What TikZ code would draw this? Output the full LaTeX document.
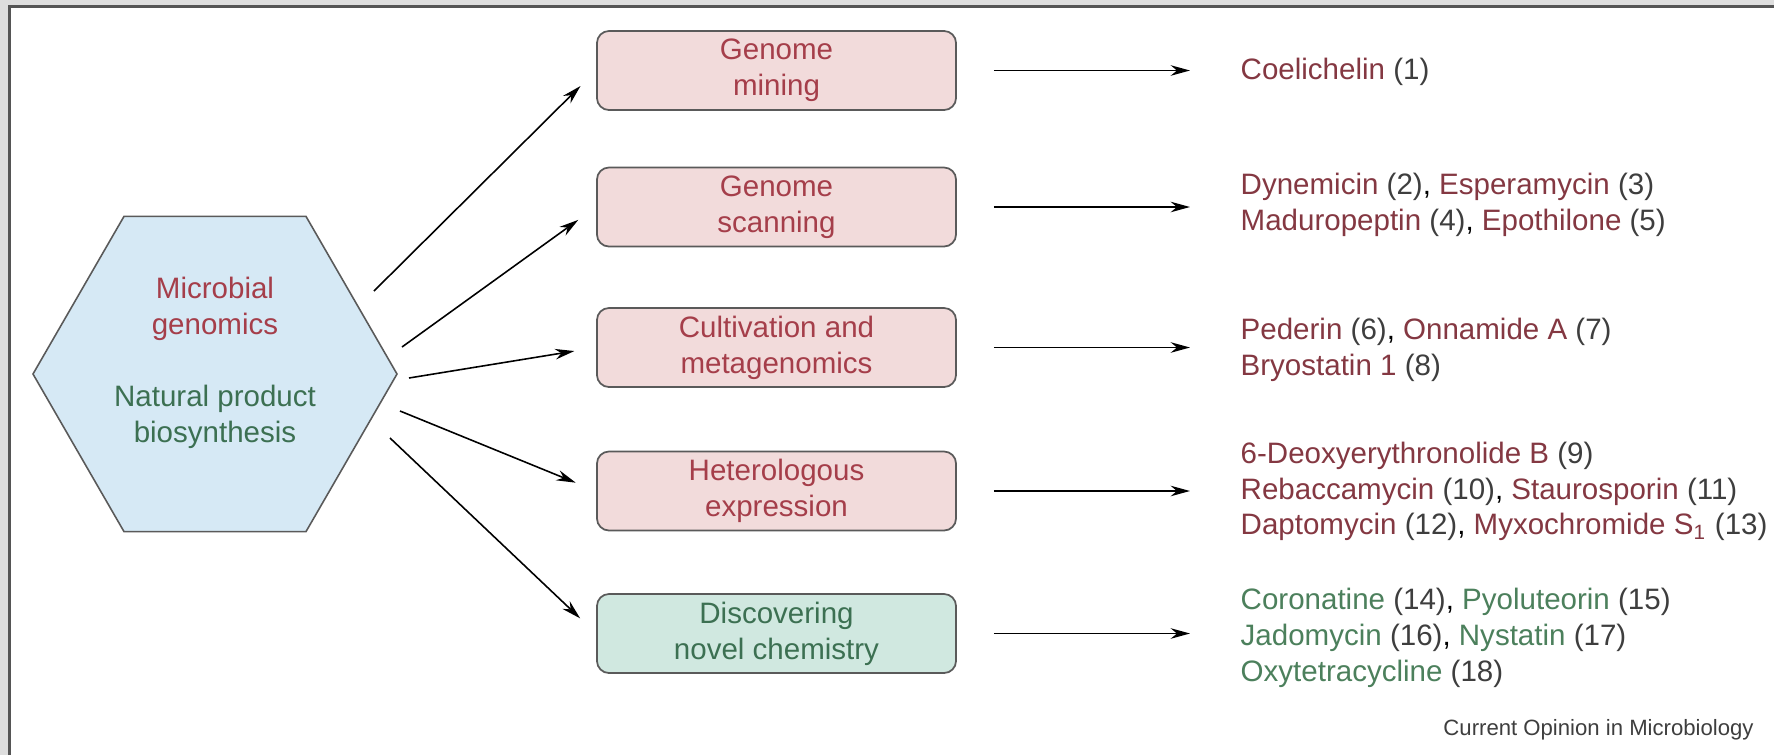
\documentclass[tikz,border=0pt]{standalone}
\usepackage{fontspec}
\setmainfont{Liberation Sans}
\usepackage{xcolor}
\usetikzlibrary{shapes.geometric, arrows.meta, positioning}

\definecolor{framegray}{RGB}{222,222,222}
\definecolor{frameline}{RGB}{85,85,85}
\definecolor{hexblue}{RGB}{214,233,245}
\definecolor{boxpink}{RGB}{242,219,219}
\definecolor{boxgreen}{RGB}{208,232,224}
\definecolor{edgegray}{RGB}{90,90,90}
\definecolor{labred}{RGB}{165,62,74}
\definecolor{labgreen}{RGB}{60,112,82}
\definecolor{listred}{RGB}{132,56,66}
\definecolor{listgreen}{RGB}{76,128,92}
\definecolor{numgray}{RGB}{62,62,62}

\newcommand{\redcmp}[2]{\textcolor{listred}{#1} \textcolor{numgray}{(#2)}}
\newcommand{\grncmp}[2]{\textcolor{listgreen}{#1} \textcolor{numgray}{(#2)}}

\begin{document}
\begin{tikzpicture}[
    font=\fontsize{8.4}{10.2}\selectfont,
    hexa/.style={regular polygon, regular polygon sides=6, draw=edgegray, fill=hexblue, line width=0.45pt, inner sep=0pt},
    method/.style={draw=edgegray, line width=0.5pt, rounded corners=3.4pt, minimum width=3.59cm, minimum height=0.79cm, align=center, inner sep=0pt},
    result/.style={anchor=west, align=left, inner sep=0pt},
    arr/.style={-{Stealth[length=5.5pt,width=3pt]}, line width=0.45pt}
]
    \useasboundingbox (0,0) rectangle (17.74,7.55);

    % Frame
    \fill[framegray] (0,0) rectangle (17.74,7.55);
    \fill[white] (0.095,0) rectangle (17.74,7.485);
    \draw[frameline, line width=0.6pt] (0.095,0) -- (0.095,7.485) -- (17.74,7.485);

    % Hexagon
    \node[hexa, minimum size=3.64cm] (hex) at (2.15,3.81) {};
    \node[text=labred, align=center] (micro) at (2.15,4.46) {Microbial\\genomics};
    \node[text=labgreen, align=center] (natprod) at (2.15,3.38) {Natural product\\biosynthesis};

    % Method boxes
    \node[method, fill=boxpink, text=labred] (mining) at (7.765,6.845) {Genome\\mining};
    \node[method, fill=boxpink, text=labred] (scanning) at (7.765,5.48) {Genome\\scanning};
    \node[method, fill=boxpink, text=labred] (cultiv) at (7.765,4.075) {Cultivation and\\metagenomics};
    \node[method, fill=boxpink, text=labred] (hetero) at (7.765,2.64) {Heterologous\\expression};
    \node[method, fill=boxgreen, text=labgreen] (discov) at (7.765,1.215) {Discovering\\novel chemistry};

    % Compounds
    \node[result] (coel) at (12.40,6.83) {\redcmp{Coelichelin}{1}};
    \node[result] (dyne) at (12.40,5.50) {\redcmp{Dynemicin}{2}, \redcmp{Esperamycin}{3}\\
        \redcmp{Maduropeptin}{4}, \redcmp{Epothilone}{5}};
    \node[result] (pede) at (12.40,4.05) {\redcmp{Pederin}{6}, \redcmp{Onnamide A}{7}\\
        \redcmp{Bryostatin 1}{8}};
    \node[result] (deox) at (12.40,2.635) {\redcmp{6-Deoxyerythronolide B}{9}\\
        \redcmp{Rebaccamycin}{10}, \redcmp{Staurosporin}{11}\\
        \redcmp{Daptomycin}{12}, \redcmp{Myxochromide S\textsubscript{1}}{13}};
    \node[result] (coro) at (12.40,1.17) {\grncmp{Coronatine}{14}, \grncmp{Pyoluteorin}{15}\\
        \grncmp{Jadomycin}{16}, \grncmp{Nystatin}{17}\\
        \grncmp{Oxytetracycline}{18}};

    % Arrows out of the hexagon
    \coordinate (s1) at (3.74,4.64);
    \coordinate (s2) at (4.02,4.08);
    \coordinate (s3) at (4.09,3.77);
    \coordinate (s4) at (4.00,3.44);
    \coordinate (s5) at (3.90,3.17);
    \foreach \s/\b in {s1/mining, s2/scanning, s3/cultiv, s4/hetero, s5/discov} {
        \draw[arr, shorten >=0.22cm] (\s) -- (\b.west);
    }

    % Arrows to compounds
    \foreach \b/\r in {mining/coel, scanning/dyne, cultiv/pede, hetero/deox, discov/coro} {
        \draw[arr, shorten <=0.37cm, shorten >=0.5cm] (\b.east) -- (\b.east -| \r.west);
    }

    % Credit
    \node[anchor=east, text=numgray, font=\fontsize{6.3}{7.5}\selectfont] (credit) at (17.66,0.25) {Current Opinion in Microbiology};
\end{tikzpicture}
\end{document}
